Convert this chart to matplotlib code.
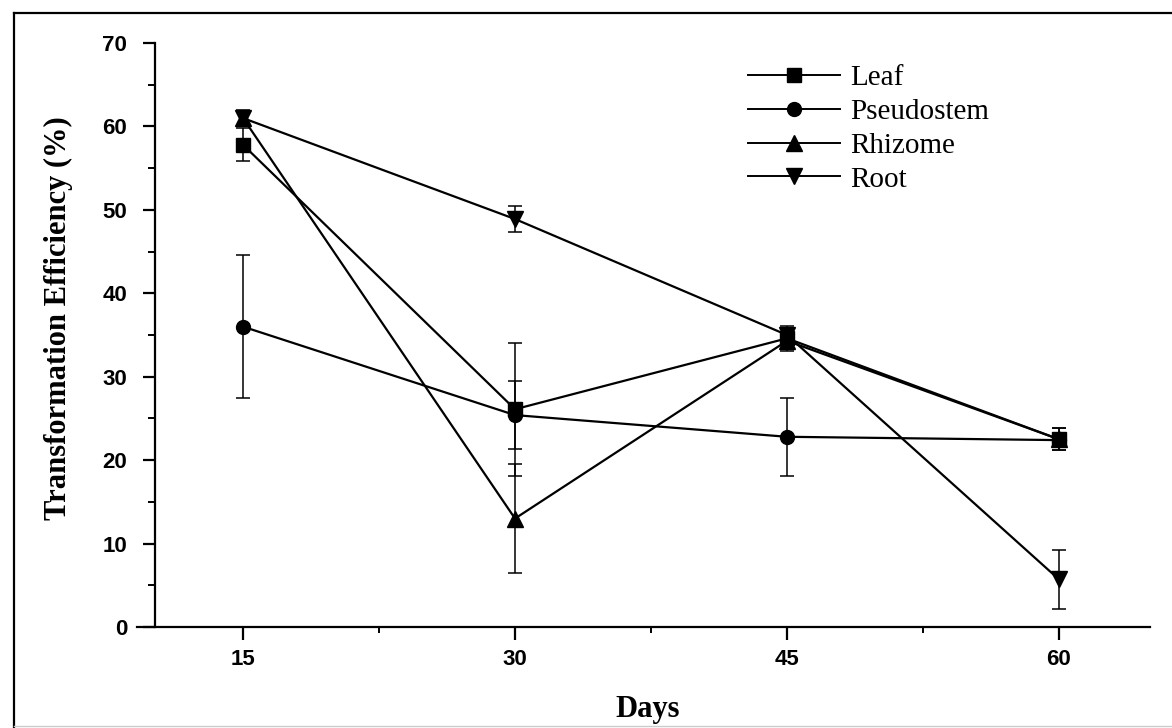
import matplotlib
matplotlib.use('Agg')
import matplotlib.pyplot as plt
from matplotlib.lines import Line2D
from matplotlib.ticker import MultipleLocator

# data
days = [15, 30, 45, 60]
series_names = ['Leaf', 'Pseudostem', 'Rhizome', 'Root']
leaf = [57.8, 26.1, 34.6, 22.5]
leaf_err = [2.0, 8.0, 1.5, 1.3]
pseudostem = [36.0, 25.4, 22.8, 22.4]
pseudostem_err = [8.6, 4.1, 4.7, 0.8]
rhizome = [61.0, 13.0, 34.3, 22.5]
rhizome_err = [0.8, 6.5, 1.0, 1.3]
root = [61.0, 48.9, 35.0, 5.7]
root_err = [1.0, 1.6, 0.8, 3.5]

W, H = 1172, 728
fig = plt.figure(figsize=(W / 100, H / 100), dpi=100)
ax = fig.add_axes([137 / W, 1 - 627 / H, (1150 - 137) / W, (627 - 43) / H])

markers = ['s', 'o', '^', 'v']
sizes = [10, 10, 11, 11]
values = [leaf, pseudostem, rhizome, root]
errors = [leaf_err, pseudostem_err, rhizome_err, root_err]

for name, y, e, m, ms in zip(series_names, values, errors, markers, sizes):
    ax.errorbar(days, y, yerr=e, color='black', marker=m, markersize=ms,
                linewidth=1.6, elinewidth=1.1, capsize=5, capthick=1.1,
                label=name, clip_on=False)

ax.set_xlim(9.154, 65.02)
ax.set_ylim(0, 70)
ax.spines['top'].set_visible(False)
ax.spines['right'].set_visible(False)
ax.spines['left'].set_position(('data', 10.147))
for s in ('left', 'bottom'):
    ax.spines[s].set_linewidth(1.6)

ax.set_xticks(days)
ax.xaxis.set_minor_locator(MultipleLocator(7.5))
ax.yaxis.set_major_locator(MultipleLocator(10))
ax.yaxis.set_minor_locator(MultipleLocator(5))
ax.tick_params(axis='both', which='major', direction='out', width=1.6,
               labelsize=16)
ax.tick_params(axis='y', which='major', length=9, pad=11)
ax.tick_params(axis='x', which='major', length=9, pad=7)
ax.tick_params(axis='y', which='minor', length=5, width=1.4)
ax.tick_params(axis='x', which='minor', length=4, width=1.4)
for lbl in ax.get_xticklabels() + ax.get_yticklabels():
    lbl.set_fontfamily('Liberation Sans')
    lbl.set_fontweight('bold')

fig.text(58 / W, 1 - 318 / H, 'Transformation Efficiency (%)', rotation=90,
         ha='center', va='center', fontsize=22, fontweight='bold',
         family='Liberation Serif')
fig.text(648 / W, 1 - 709 / H, 'Days', ha='center', va='center',
         fontsize=22, fontweight='bold', family='Liberation Serif')

handles = [Line2D([], [], color='black', marker=m, markersize=ms, linewidth=1.4)
           for m, ms in zip(markers, sizes)]
ax.legend(handles, series_names, loc='upper left',
          bbox_to_anchor=(748 / W, 1 - 65 / H), bbox_transform=fig.transFigure,
          frameon=False, borderpad=0, borderaxespad=0, handlelength=3.15,
          handletextpad=0.35, labelspacing=0.25,
          prop={'family': 'Liberation Serif', 'size': 21})

# outer frame of the original figure
fig.add_artist(Line2D([14 / W, 1], [1 - 13 / H, 1 - 13 / H],
                      transform=fig.transFigure, color='black', linewidth=1.6))
fig.add_artist(Line2D([14 / W, 14 / W], [1 - 13 / H, 0],
                      transform=fig.transFigure, color='black', linewidth=1.6))
fig.add_artist(Line2D([14 / W, 1], [1 - 726 / H, 1 - 726 / H],
                      transform=fig.transFigure, color='#cccccc', linewidth=1))

fig.savefig('out.png', dpi=100)
plt.close(fig)
